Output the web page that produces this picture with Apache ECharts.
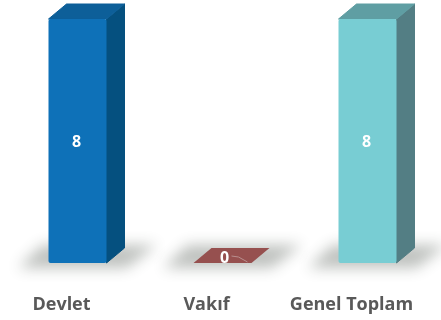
<!DOCTYPE html>
<html>
<head>
<meta charset="utf-8">
<style>
html,body{margin:0;padding:0;background:#fff}
#chart{width:441px;height:320px}
</style>
<script src="https://cdn.jsdelivr.net/npm/echarts@6/dist/echarts.min.js"></script>
</head>
<body>
<div id="chart"></div>
<script>
const categories = ['Devlet', 'Vakıf', 'Genel Toplam'];
const values = [8, 0, 8];

const frontColors = ['#0e71b8', '#96504f', '#78cdd3'];
const sideColors = ['#05507f', '#96504f', '#537e84'];
const topColors = ['#0d5f99', '#96504f', '#5f9ea3'];

const depthX = 18, depthY = 15;
const farAway = 2000;

function renderBar(params, api) {
  const i = api.value(0);
  const val = api.value(1);
  const base = api.coord([i, 0]);
  const head = api.coord([i, val]);
  const w = api.size([1, 0])[0] * 0.4;
  const l = base[0] - w / 2, r = base[0] + w / 2;
  const b = base[1], t = head[1];
  const children = [];

  // soft shadow on the floor: shape sits off canvas, only its blur lands here
  children.push({
    type: 'polygon',
    shape: { points: [
      [l - 30 - farAway, b + 5], [l + 78 - farAway, b + 5],
      [l + 108 - farAway, b - 18], [l - 6 - farAway, b - 18]
    ] },
    style: { fill: '#000', shadowBlur: 14, shadowColor: 'rgba(188,191,188,0.95)', shadowOffsetX: farAway }
  });

  if (val > 0) {
    children.push({
      type: 'polygon',
      shape: { points: [[r, t], [r + depthX, t - depthY], [r + depthX, b - depthY], [r, b]] },
      style: { fill: sideColors[i], stroke: sideColors[i], lineWidth: 1, lineJoin: 'round' }
    });
    children.push({
      type: 'polygon',
      shape: { points: [[l, t], [l + depthX, t - depthY], [r + depthX, t - depthY], [r, t]] },
      style: { fill: topColors[i], stroke: topColors[i], lineWidth: 1, lineJoin: 'round' }
    });
    children.push({
      type: 'rect',
      shape: { x: l, y: t, width: w, height: b - t, r: 2 },
      style: { fill: frontColors[i] }
    });
  } else {
    // zero height, only the top face is left
    children.push({
      type: 'polygon',
      shape: { points: [[l, b], [l + depthX, b - depthY], [r + depthX, b - depthY], [r, b]] },
      style: { fill: topColors[i] }
    });
    children.push({
      type: 'polyline',
      shape: { points: [[base[0] + 9, b - 7], [base[0] + 16, b - 6], [base[0] + 25, b - 1]] },
      style: { stroke: '#b98f8e', lineWidth: 1, fill: null }
    });
  }

  children.push({
    type: 'text',
    style: {
      text: String(val),
      x: val > 0 ? base[0] - 1 : base[0] + 2,
      y: val > 0 ? (t + b) / 2 + 1 : b - 5,
      align: 'center',
      verticalAlign: 'middle',
      fill: '#fff',
      font: 'bold 16px "Open Sans"'
    }
  });
  return { type: 'group', children: children };
}

const myChart = echarts.init(document.getElementById('chart'), null, { renderer: 'canvas' });
myChart.setOption({
  backgroundColor: '#fff',
  animation: false,
  grid: { left: 5, right: 1, top: 19, bottom: 57 },
  xAxis: {
    type: 'category',
    data: categories,
    axisLine: { show: false },
    axisTick: { show: false },
    axisLabel: {
      margin: 33,
      padding: [0, 32, 0, 0],
      color: '#595959',
      fontFamily: 'Open Sans',
      fontWeight: 'bold',
      fontSize: 18,
      interval: 0
    }
  },
  yAxis: { type: 'value', min: 0, max: 8, show: false },
  series: [{
    type: 'custom',
    clip: false,
    renderItem: renderBar,
    encode: { x: 0, y: 1 },
    data: values.map((v, i) => [i, v])
  }]
});
</script>
</body>
</html>
